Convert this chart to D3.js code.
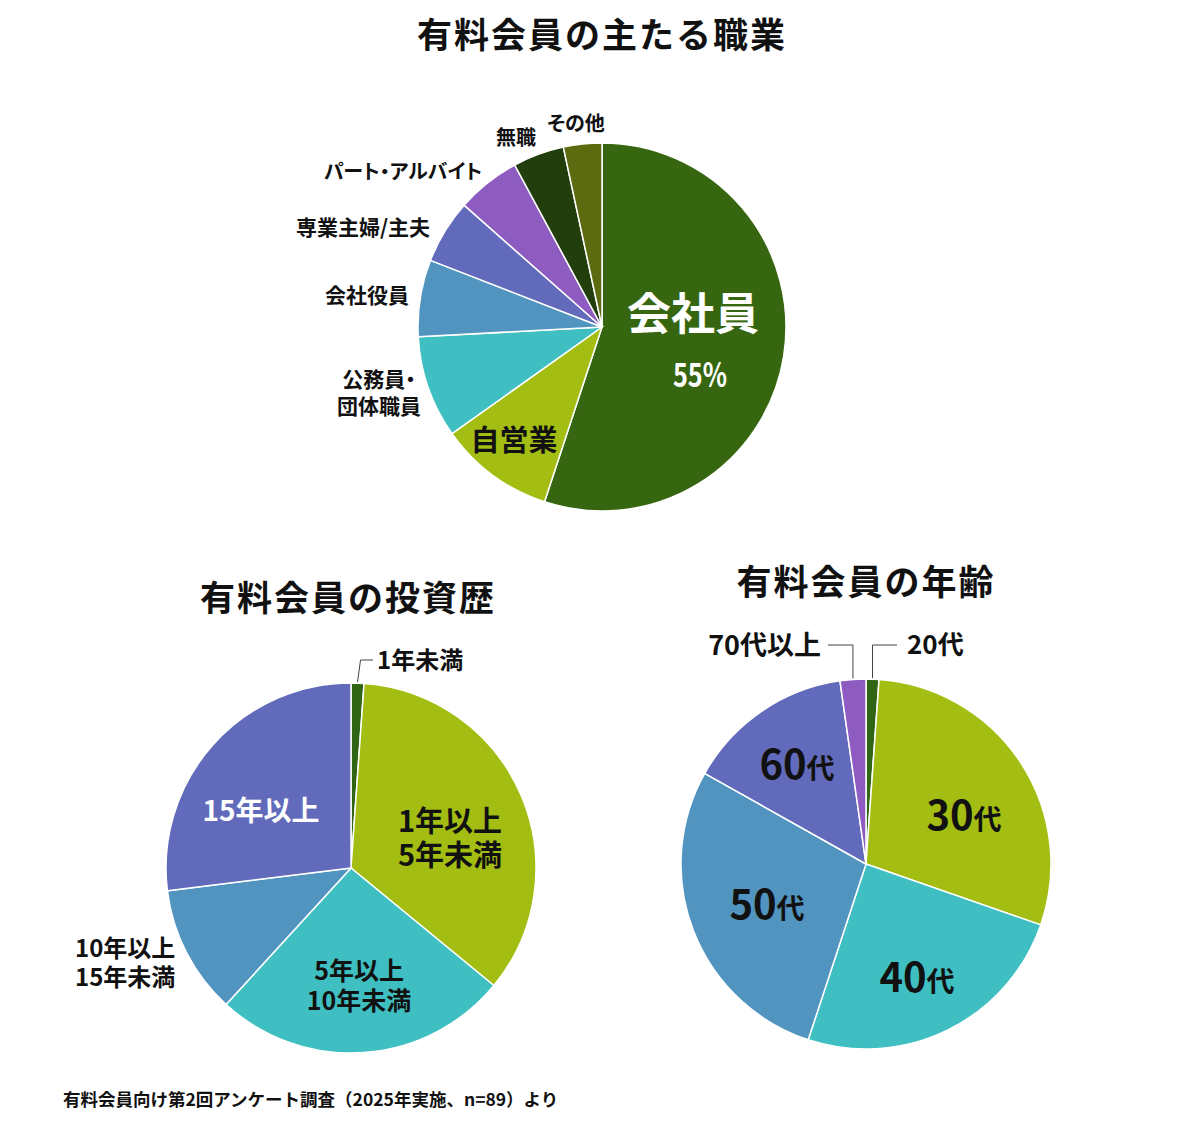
<!DOCTYPE html>
<html>
<head>
<meta charset="utf-8">
<script src="https://cdn.jsdelivr.net/npm/d3@7"></script>
<style>
  body { margin: 0; background: #fff; }
  svg { display: block; font-family: "Noto Sans CJK JP", "Noto Sans", sans-serif; }
  .palt { font-feature-settings: "palt"; }
</style>
</head>
<body>
<svg width="1200" height="1136"></svg>
<script>
// 回答数 (n=89)
const jobCategories = ['会社員', '自営業', '公務員・団体職員', '会社役員', '専業主婦/主夫', 'パート・アルバイト', '無職', 'その他'];
const jobValues = [49, 9, 8, 6, 5, 5, 4, 3];

const historyCategories = ['1年未満', '1年以上5年未満', '5年以上10年未満', '10年以上15年未満', '15年以上'];
const historyValues = [1, 31, 23, 10, 24];

const ageCategories = ['20代', '30代', '40代', '50代', '60代', '70代以上'];
const ageValues = [1, 26, 22, 25, 13, 2];

const titles = ['有料会員の主たる職業', '有料会員の投資歴', '有料会員の年齢'];
const note = '有料会員向け第2回アンケート調査（2025年実施、n=89）より';

const jobColors = ['#376611', '#a4bd12', '#3fbfc1', '#5294c0', '#626bbb', '#8e5bc1', '#213e0c', '#5c6b0f'];
const historyColors = ['#2f6514', '#a4bd12', '#3fbfc1', '#5294c0', '#626bbb'];
const ageColors = ['#2f6514', '#a4bd12', '#3fbfc1', '#5294c0', '#626bbb', '#8e5bc1'];

const svg = d3.select('svg');

// label layout: offsets from pie centre, lines of text
const jobLabels = [
  { dx: 91, dy: 3, anchor: 'middle', lines: [{ t: '会社員', size: 44, fill: '#fff' }] },
  { dx: 98, dy: 60, anchor: 'middle', len: 54, lines: [{ t: '55%', size: 33, fill: '#fff' }] },
  { dx: -88, dy: 124, anchor: 'middle', lines: [{ t: '自営業', size: 29 }] },
  { dx: -223, dy: 60, anchor: 'middle', lh: 27, palt: true, lines: [{ t: '公務員・', size: 21 }, { t: '団体職員', size: 21 }] },
  { dx: -235, dy: -24, anchor: 'middle', lines: [{ t: '会社役員', size: 21 }] },
  { dx: -239, dy: -92, anchor: 'middle', lines: [{ t: '専業主婦/主夫', size: 21 }] },
  { dx: -199, dy: -148, anchor: 'middle', palt: true, lines: [{ t: 'パート・アルバイト', size: 20 }] },
  { dx: -86, dy: -182, anchor: 'middle', lines: [{ t: '無職', size: 20 }] },
  { dx: -26, dy: -196, anchor: 'middle', palt: true, lines: [{ t: 'その他', size: 20 }] }
];

const historyLabels = [
  { dx: 26, dy: -199, anchor: 'start', lines: [{ t: '1年未満', size: 24 }] },
  { dx: 99, dy: -36, anchor: 'middle', lh: 34, lines: [{ t: '1年以上', size: 29 }, { t: '5年未満', size: 29 }] },
  { dx: 8, dy: 112, anchor: 'middle', lh: 30, lines: [{ t: '5年以上', size: 25 }, { t: '10年未満', size: 25 }] },
  { dx: -276, dy: 89, anchor: 'start', lh: 29, lines: [{ t: '10年以上', size: 24 }, { t: '15年未満', size: 24 }] },
  { dx: -90, dy: -47, anchor: 'middle', lines: [{ t: '15年以上', size: 28, fill: '#fff' }] }
];

const ageLabels = [
  { dx: 41, dy: -210, anchor: 'start', lines: [{ t: '20', t2: '代', size: 26, size2: 26 }] },
  { dx: 98, dy: -34, anchor: 'middle', lines: [{ t: '30', t2: '代', size: 40, size2: 28 }] },
  { dx: 51, dy: 128, anchor: 'middle', lines: [{ t: '40', t2: '代', size: 40, size2: 28 }] },
  { dx: -99, dy: 55, anchor: 'middle', lines: [{ t: '50', t2: '代', size: 40, size2: 28 }] },
  { dx: -69, dy: -85, anchor: 'middle', lines: [{ t: '60', t2: '代', size: 40, size2: 28 }] },
  { dx: -45, dy: -209, anchor: 'end', lines: [{ t: '70', t2: '代以上', size: 27, size2: 27 }] }
];

function drawPie(cfg) {
  const g = svg.append('g').attr('transform', `translate(${cfg.cx},${cfg.cy})`);
  const pie = d3.pie().sort(null).value(d => d);
  const arc = d3.arc().innerRadius(0).outerRadius(cfg.r);
  const arcs = pie(cfg.values);

  g.selectAll('path')
    .data(arcs)
    .enter()
    .append('path')
    .attr('d', arc)
    .attr('fill', (d, i) => cfg.colors[i])
    .attr('stroke', '#fff')
    .attr('stroke-width', 1.5);

  // leader lines for the thin slices
  (cfg.leaders || []).forEach(l => {
    const a = (arcs[l.index].startAngle + arcs[l.index].endAngle) / 2;
    const x0 = cfg.r * Math.sin(a);
    const y0 = -cfg.r * Math.cos(a);
    g.append('path')
      .attr('d', `M${x0},${y0 - 1}L${x0 + (l.slant || 0)},${l.y}L${l.x},${l.y}`)
      .attr('fill', 'none')
      .attr('stroke', '#444')
      .attr('stroke-width', 1);
  });

  cfg.labels.forEach(lab => {
    const txt = g.append('text')
      .attr('class', lab.palt ? 'palt' : null)
      .attr('text-anchor', lab.anchor)
      .attr('font-weight', 700);
    lab.lines.forEach((ln, j) => {
      const ts = txt.append('tspan')
        .attr('x', lab.dx)
        .attr('y', lab.dy + j * (lab.lh || 0))
        .attr('font-size', ln.size)
        .attr('fill', ln.fill || '#111')
        .text(ln.t);
      if (lab.len) ts.attr('textLength', lab.len).attr('lengthAdjust', 'spacingAndGlyphs');
      if (ln.t2) txt.append('tspan').attr('font-size', ln.size2).attr('fill', ln.fill || '#111').text(ln.t2);
    });
  });
}

drawPie({ cx: 602, cy: 327, r: 184, values: jobValues, colors: jobColors, labels: jobLabels });
drawPie({
  cx: 351, cy: 868, r: 185, values: historyValues, colors: historyColors, labels: historyLabels,
  leaders: [{ index: 0, y: -208, x: 22, slant: 3 }]
});
drawPie({
  cx: 866, cy: 864, r: 185, values: ageValues, colors: ageColors, labels: ageLabels,
  leaders: [{ index: 0, y: -219, x: 31 }, { index: 5, y: -219, x: -38 }]
});

// titles
svg.append('text').attr('x', 602).attr('y', 48).attr('text-anchor', 'middle')
  .attr('font-size', 35).attr('font-weight', 700).attr('letter-spacing', 2).attr('fill', '#111')
  .text(titles[0]);
svg.append('text').attr('x', 348).attr('y', 611).attr('text-anchor', 'middle')
  .attr('font-size', 35).attr('font-weight', 700).attr('letter-spacing', 2).attr('fill', '#111')
  .text(titles[1]);
svg.append('text').attr('x', 866).attr('y', 595).attr('text-anchor', 'middle')
  .attr('font-size', 35).attr('font-weight', 700).attr('letter-spacing', 2).attr('fill', '#111')
  .text(titles[2]);

svg.append('text').attr('x', 63).attr('y', 1106)
  .attr('font-size', 17.5).attr('font-weight', 700).attr('fill', '#111')
  .text(note);
</script>
</body>
</html>
